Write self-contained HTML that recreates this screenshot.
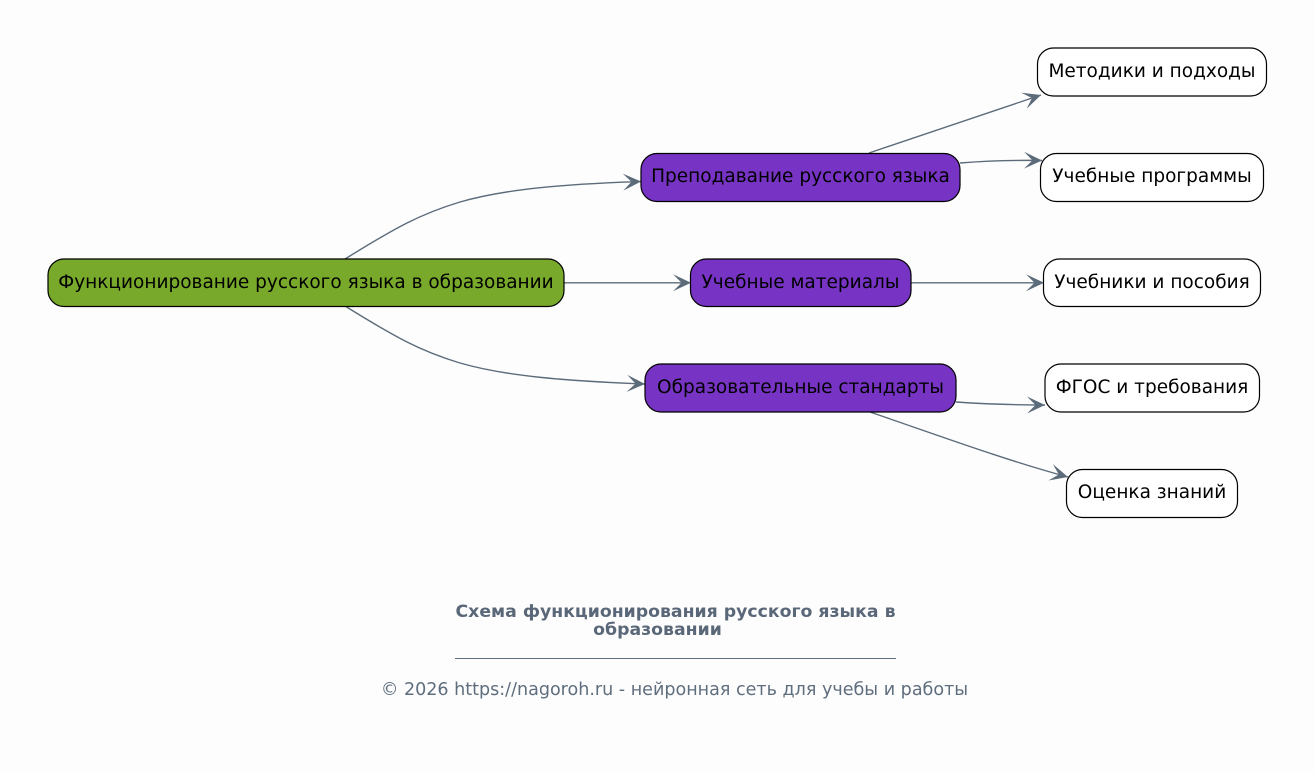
<!DOCTYPE html>
<html><head><meta charset="utf-8"><style>
html,body{margin:0;padding:0;background:#fdfdfd;width:1315px;height:773px;overflow:hidden}
svg{display:block}
text{font-family:"DejaVu Sans",sans-serif}
.n{font-size:18.5px;fill:#000;text-anchor:middle}
.r{stroke:#000;stroke-width:1.2}
.e{fill:none;stroke:#5c6b7a;stroke-width:1.4}
.a{fill:#5c6b7a;stroke:none}
</style></head><body>
<svg width="1315" height="773" viewBox="0 0 1315 773" xmlns="http://www.w3.org/2000/svg">
<rect width="1315" height="773" fill="#fdfdfd"/>
<defs><marker id="m" markerUnits="userSpaceOnUse" markerWidth="20" markerHeight="20" refX="18" refY="9" orient="auto" viewBox="0 0 20 20"><path class="a" d="M0 0.500 L18 9 L0 17.500 L8.500 9 Z"/></marker></defs>
<path class="e" marker-end="url(#m)" d="M345 259 C395 228 420 214 460 202 C505 189 565 184 641 181.500"/>
<path class="e" marker-end="url(#m)" d="M564 282.800 L691 282.800"/>
<path class="e" marker-end="url(#m)" d="M345 306 C395 337 420 351 460 363 C505 376 565 381 645 384"/>
<path class="e" marker-end="url(#m)" d="M869 153 L1041 95"/>
<path class="e" marker-end="url(#m)" d="M960 163 C985 161 1010 160 1042 160.500"/>
<path class="e" marker-end="url(#m)" d="M911 282.800 L1044 282.800"/>
<path class="e" marker-end="url(#m)" d="M956 402 C985 404 1010 405 1045 405"/>
<path class="e" marker-end="url(#m)" d="M870 412 C940 436 1005 460 1068 477"/>
<rect class="r" x="48" y="259" width="516" height="47.500" rx="16" fill="#78a92b"/>
<text class="n" x="306" y="288">Функционирование русского языка в образовании</text>
<rect class="r" x="641" y="153.500" width="319" height="48" rx="16" fill="#7734c4"/>
<text class="n" x="800.500" y="182">Преподавание русского языка</text>
<rect class="r" x="690.500" y="259" width="220.500" height="47.500" rx="16" fill="#7734c4"/>
<text class="n" x="800.500" y="288">Учебные материалы</text>
<rect class="r" x="645" y="364" width="311" height="48" rx="16" fill="#7734c4"/>
<text class="n" x="800.500" y="393">Образовательные стандарты</text>
<rect class="r" x="1037.500" y="48" width="229" height="48" rx="16" fill="#fff"/>
<text class="n" x="1152" y="77">Методики и подходы</text>
<rect class="r" x="1040.500" y="153.500" width="223" height="48" rx="16" fill="#fff"/>
<text class="n" x="1152" y="182">Учебные программы</text>
<rect class="r" x="1043.500" y="259" width="217" height="47.500" rx="16" fill="#fff"/>
<text class="n" x="1152" y="288">Учебники и пособия</text>
<rect class="r" x="1045" y="364" width="214.500" height="48" rx="16" fill="#fff"/>
<text class="n" x="1152" y="393">ФГОС и требования</text>
<rect class="r" x="1066.500" y="469.500" width="171" height="48" rx="16" fill="#fff"/>
<text class="n" x="1152" y="498">Оценка знаний</text>
<text x="675.500" y="617" font-size="17.300" font-weight="bold" fill="#5a6778" text-anchor="middle">Схема функционирования русского языка в</text>
<text x="657.500" y="635" font-size="17.300" font-weight="bold" fill="#5a6778" text-anchor="middle">образовании</text>
<rect x="455" y="658" width="441" height="1" fill="#5f6e7e"/>
<text x="674.500" y="695" font-size="17.550" fill="#5f6e7e" text-anchor="middle">© 2026 https://nagoroh.ru - нейронная сеть для учебы и работы</text>
</svg>
</body></html>
